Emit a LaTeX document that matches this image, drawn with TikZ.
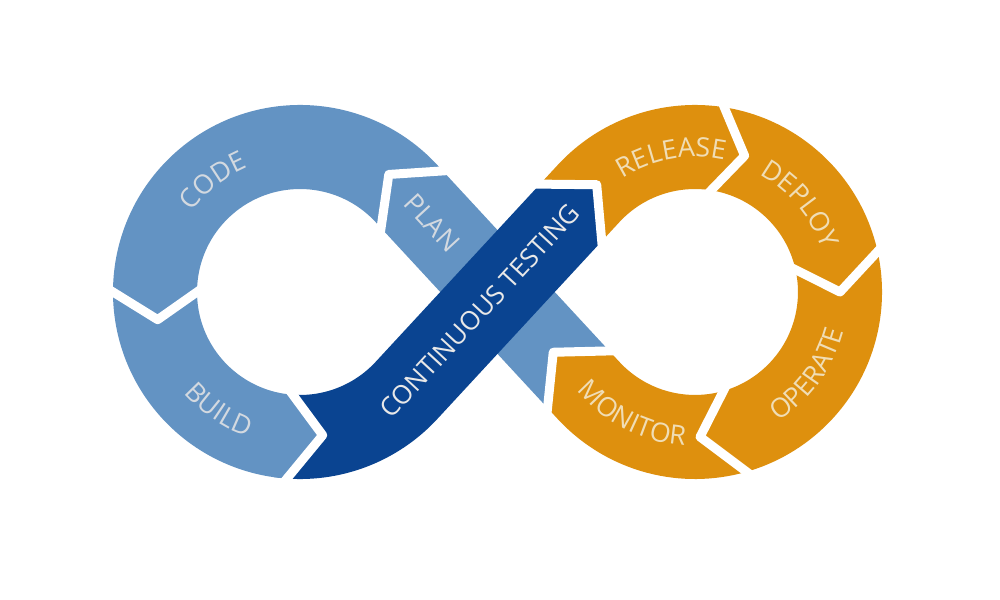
\documentclass[tikz,border=0pt]{standalone}
\usepackage{fontspec}
\newfontfamily\dfont{Open Sans}
\usetikzlibrary{calc,decorations.text}
\definecolor{lb}{HTML}{6393C3}
\definecolor{db}{HTML}{0A4491}
\definecolor{og}{HTML}{DE900E}
\definecolor{tl}{HTML}{D3D9E0}
\definecolor{to}{HTML}{F0DDB5}
\definecolor{tc}{HTML}{E8E8E8}
\newcommand\arcchev[4]{%
  \coordinate (#1o) at ($(#2)+(#3:187)$);
  \coordinate (#1t) at ($(#2)+(#4:145)$);
  \coordinate (#1i) at ($(#2)+(#3:103)$);}
\newcommand\sepchev[1]{%
  \draw[sep] ($(#1o)!-2pt!(#1t)$) -- (#1t) -- ($(#1i)!-2pt!(#1t)$);}
\newcommand\arctext[6]{% color, center, radius, start, end, text
  \path[decorate,decoration={text along path,text align=center,
    text={|\dfont\fontsize{7.6}{9}\selectfont\color{#1}|#6}}]
    ($(#2)+(#4:#3)$) arc[start angle=#4,end angle=#5,radius=#3];}
\begin{document}
\begin{tikzpicture}[x=0.01cm,y=0.01cm,
  band/.style={line width=0.84cm},
  sep/.style={draw=white,line width=0.09cm,line join=round},
  lbl/.style={font=\dfont\fontsize{7.4}{9}\selectfont,inner sep=0pt}]
\useasboundingbox[fill=white] (0,0) rectangle (1000,600);
\pgfmathsetmacro\al{acos(145/197.5)}
\pgfmathsetmacro\dC{90-\al}
\pgfmathsetmacro\dCb{270-\al}
\pgfmathsetmacro\nCl{180-\al}
\pgfmathsetmacro\nCr{-\al}
\pgfmathsetmacro\dP{90+\al}
\pgfmathsetmacro\dPb{\al-90}
\pgfmathsetmacro\nPl{180+\al}
\pgfmathsetmacro\nPr{\al}
\pgfmathsetmacro\eL{360-\al}
\pgfmathsetmacro\eR{-180+\al}
\coordinate (C1) at (300,308);
\coordinate (C2) at (695,308);
\coordinate (T1) at ($(C1)+(\al:145)$);
\coordinate (T2) at ($(C1)+(\nCr:145)$);
\coordinate (T3) at ($(C2)+(\nCl:145)$);
\coordinate (T4) at ($(C2)+(\nPl:145)$);
\coordinate (Pst) at ($(T4)+(\dP:15)$);
\coordinate (Mtip) at ($(T4)+(\dP:52)$);
\coordinate (Cend) at ($(T3)+(\dCb:26)$);
\coordinate (Ctip) at ($(T3)+(\dC:12)$);
\coordinate (Pc) at ($(T1)+(\dPb:8)$);
\coordinate (Ptip) at ($(T1)+(\dP:26)$);
% bands
\draw[band,lb] (Pst) -- (T1) arc[start angle=\al,end angle=266,radius=145];
\draw[band,og] (Cend) -- (T3) arc[start angle=\nCl,end angle=\eR,radius=145] -- (Pst);
\draw[band,db] ($(C1)+(266:145)$) arc[start angle=266,end angle=\eL,radius=145] -- (Cend);
% chevron points
\arcchev{cb}{C1}{180}{191}
\arcchev{bt}{C1}{266}{279}
\arcchev{rd}{C2}{81}{70}
\arcchev{do}{C2}{12.5}{0}
\arcchev{om}{C2}{-74}{-88}
\coordinate (pco) at ($(Pc)+(\nPr:42)$);
\coordinate (pct) at (Ptip);
\coordinate (pci) at ($(Pc)+(\nPl:42)$);
\coordinate (cro) at ($(Cend)+(\nCl:42)$);
\coordinate (crt) at (Ctip);
\coordinate (cri) at ($(Cend)+(\nCr:42)$);
\coordinate (mpo) at ($(Pst)+(\nPl:42)$);
\coordinate (mpt) at (Mtip);
\coordinate (mpi) at ($(Pst)+(\nPr:42)$);
% arrow tips of another colour, reaching a little back into their own band
\fill[lb] (bto) -- (btt) -- (bti) -- ($(C1)+(262:103)$) -- ($(C1)+(262:187)$) -- cycle;
\fill[db] (cro) -- (crt) -- (cri) -- ($(cri)+(\dCb:6)$) -- ($(cro)+(\dCb:6)$) -- cycle;
\fill[og] (mpo) -- (mpt) -- (mpi) -- ($(mpi)+(\dPb:6)$) -- ($(mpo)+(\dPb:6)$) -- cycle;
% white gaps
\sepchev{pc}
\sepchev{cb}
\sepchev{bt}
\sepchev{cr}
\sepchev{rd}
\sepchev{do}
\sepchev{om}
\sepchev{mp}
% labels
\arctext{tl}{C1}{135}{160}{96}{CODE}
\arctext{tl}{C1}{154}{200}{271}{BUILD}
\arctext{to}{C2}{135}{143}{57}{RELEASE}
\arctext{to}{C2}{134}{80}{0}{DEPLOY}
\arctext{to}{C2}{154}{-76}{4}{OPERATE}
\arctext{to}{C2}{154}{200}{286}{MONITOR}
\node[lbl,text=tl,rotate=\dPb,font=\dfont\fontsize{7.6}{9}\selectfont] (plan) at (432,377) {PLAN};
\node[lbl,text=tc,rotate=\dC] (ct) at (480,289) {CONTINUOUS TESTING};
\end{tikzpicture}
\end{document}
